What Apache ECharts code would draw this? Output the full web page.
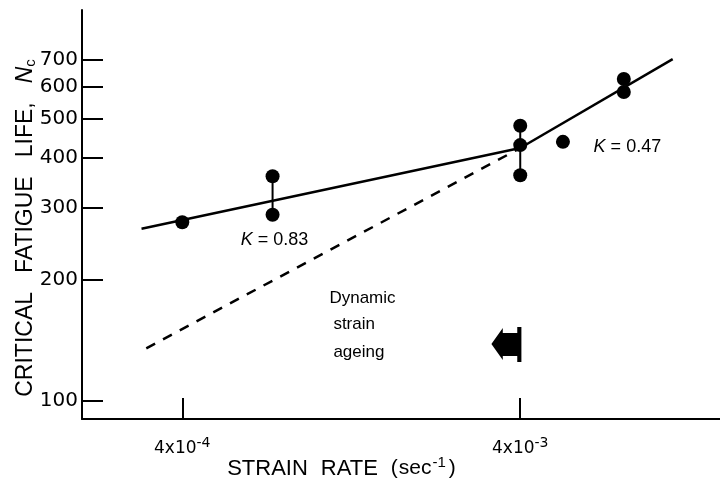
<!DOCTYPE html>
<html>
<head>
<meta charset="utf-8">
<script src="https://cdn.jsdelivr.net/npm/echarts@6/dist/echarts.min.js"></script>
<style>
  html, body { margin: 0; padding: 0; background: #fff; }
  #chart { width: 720px; height: 485px; }
</style>
</head>
<body>
<div id="chart"></div>
<script>
const INK = "#000";
const FONT = "Liberation Sans";
const NUM_FONT = "DejaVu Sans";

// measured points: strain rate (1/s) vs critical fatigue life
const strainRate = [4e-4, 7.4e-4, 7.4e-4, 4e-3, 4e-3, 4e-3, 5.35e-3, 8.1e-3, 8.1e-3];
const fatigueLife = [277, 360, 289, 480, 430, 362, 438, 627, 582];

// vertical bars joining repeat tests at one rate
const bandRate = [7.4e-4, 4e-3];
const bandLow = [289, 362];
const bandHigh = [360, 480];

// fitted lines and the dashed extrapolation
const fitLowRate = [3.03e-4, 4e-3];
const fitLowLife = [267, 423];
const fitHighRate = [4e-3, 1.13e-2];
const fitHighLife = [423, 702];
const extrapRate = [3.13e-4, 3.9e-3];
const extrapLife = [135, 418];

// axis ticks
const yTicks = [100, 200, 300, 400, 500, 600, 700];
const xTicks = [4e-4, 4e-3];
const xTickLabels = ["4x10{sup|-4}", "4x10{sup|-3}"];

// annotations
const noteText = ["{it|K} = 0.83", "{it|K} = 0.47", "Dynamic", "strain", "ageing"];
const noteRate = [7.5e-4, 8.3e-3, 1.09e-3, 1.12e-3, 1.12e-3];
const noteLife = [250, 426, 180, 155, 132];
const noteAlign = ["center", "center", "left", "left", "left"];

// "dynamic strain ageing" arrow
const arrowRate = [3.64e-3];
const arrowLife = [138];

const chart = echarts.init(document.getElementById("chart"), null, { renderer: "canvas" });

const pair = (xs, ys) => xs.map((x, i) => [x, ys[i]]);

const bandSeries = bandRate.map((x, i) => ({
  type: "line",
  data: [[x, bandLow[i]], [x, bandHigh[i]]],
  showSymbol: false,
  lineStyle: { color: INK, width: 2 },
  z: 2,
}));

chart.setOption({
  animation: false,
  textStyle: { fontFamily: FONT, color: INK },
  grid: { left: 82, right: 0, top: 10, bottom: 66, outerBoundsMode: "none" },
  xAxis: {
    type: "log",
    logBase: 10,
    min: 2.02e-4,
    max: 0.0156,
    name: "STRAIN{g1|}RATE{g2|}{p|(}{s|sec}{sup|-1}{p|)}",
    nameLocation: "middle",
    nameGap: 36,
    nameMoveOverlap: false,
    nameTextStyle: {
      fontFamily: FONT,
      fontSize: 22,
      color: INK,
      padding: [0, 118, 0, 0],
      rich: {
        g1: { width: 13 },
        g2: { width: 12 },
        p: { fontFamily: FONT, fontSize: 21, color: INK, padding: [0, 1, 0, 1] },
        s: { fontFamily: FONT, fontSize: 21, color: INK },
        sup: { fontFamily: FONT, fontSize: 15, color: INK, verticalAlign: "bottom", padding: [0, 2, 12, 1] },
      },
    },
    axisLine: { show: true, lineStyle: { color: INK, width: 2 } },
    axisTick: { show: true, inside: true, length: 21, customValues: xTicks, lineStyle: { color: INK, width: 2 } },
    axisLabel: {
      show: true,
      customValues: xTicks,
      margin: 17,
      fontFamily: NUM_FONT,
      fontSize: 17,
      color: INK,
      formatter: (v) => {
        let best = 0;
        xTicks.forEach((t, i) => {
          if (Math.abs(Math.log10(t) - Math.log10(v)) < Math.abs(Math.log10(xTicks[best]) - Math.log10(v))) best = i;
        });
        return xTickLabels[best];
      },
      rich: {
        sup: { fontFamily: NUM_FONT, fontSize: 14, color: INK, verticalAlign: "bottom", padding: [0, 0, 12, 0] },
      },
    },
    splitLine: { show: false },
    minorTick: { show: false },
  },
  yAxis: {
    type: "log",
    logBase: 10,
    min: 90.2,
    max: 929,
    name: "CRITICAL{g|}FATIGUE{g|}LIFE,{g|}{it|N}{sub|c}",
    nameLocation: "middle",
    nameRotate: 90,
    nameGap: 44,
    nameMoveOverlap: false,
    nameTextStyle: {
      fontFamily: FONT,
      fontSize: 23,
      color: INK,
      padding: [0, 27, 0, 0],
      rich: {
        g: { width: 19 },
        it: { fontFamily: FONT, fontSize: 23, fontStyle: "italic", color: INK },
        sub: { fontFamily: FONT, fontSize: 15, color: INK, verticalAlign: "top", padding: [9, 0, 0, 0] },
      },
    },
    axisLine: { show: true, lineStyle: { color: INK, width: 2 } },
    axisTick: { show: true, inside: true, length: 21, customValues: yTicks, lineStyle: { color: INK, width: 2 } },
    axisLabel: {
      show: true,
      customValues: yTicks,
      margin: 4,
      fontFamily: NUM_FONT,
      fontSize: 20,
      color: INK,
      formatter: (v) => String(Math.round(v)),
    },
    splitLine: { show: false },
    minorTick: { show: false },
  },
  series: [
    {
      type: "line",
      data: pair(fitLowRate, fitLowLife),
      showSymbol: false,
      lineStyle: { color: INK, width: 2.5 },
      z: 2,
    },
    {
      type: "line",
      data: pair(fitHighRate, fitHighLife),
      showSymbol: false,
      lineStyle: { color: INK, width: 2.5 },
      z: 2,
    },
    {
      type: "line",
      data: pair(extrapRate, extrapLife),
      showSymbol: false,
      lineStyle: { color: INK, width: 2.5, type: [10, 9] },
      z: 2,
    },
    ...bandSeries,
    {
      type: "scatter",
      data: pair(strainRate, fatigueLife),
      symbol: "circle",
      symbolSize: 14,
      itemStyle: { color: INK, opacity: 1 },
      z: 3,
    },
    {
      type: "scatter",
      data: pair(arrowRate, arrowLife),
      symbol: "path://M0 17 L11 1 L11 6 L25 6 L25 0 L29 0 L29 35 L25 35 L25 29 L11 29 L11 33 Z",
      symbolSize: [30, 35],
      itemStyle: { color: INK, opacity: 1 },
      z: 3,
    },
    {
      type: "scatter",
      data: noteRate.map((x, i) => ({
        value: [x, noteLife[i]],
        label: {
          formatter: noteText[i],
          position: noteAlign[i] === "left" ? "right" : "inside",
          distance: 0,
          fontSize: noteAlign[i] === "left" ? 17 : 18,
        },
      })),
      symbolSize: 0,
      itemStyle: { color: INK, opacity: 1 },
      label: {
        show: true,
        fontFamily: FONT,
        fontSize: 17,
        color: INK,
        rich: {
          it: { fontFamily: FONT, fontSize: 18, fontStyle: "italic", color: INK },
        },
      },
      z: 4,
    },
  ],
});
</script>
</body>
</html>
